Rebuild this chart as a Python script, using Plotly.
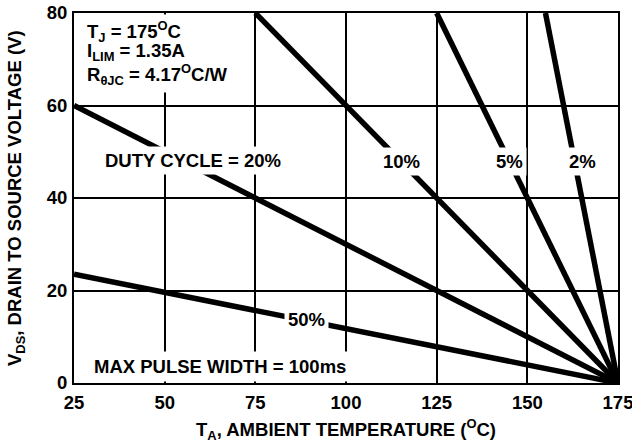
import plotly.graph_objects as go

# Data: safe operating lines for each duty cycle (ambient temperature vs V_DS)
t_2 = [155, 175]
v_2 = [80, 0]
t_5 = [125, 175]
v_5 = [80, 0]
t_10 = [75, 175]
v_10 = [80, 0]
t_20 = [25, 175]
v_20 = [60, 0]
t_50 = [25, 175]
v_50 = [23.5, 0]

x_ticks = [25, 50, 75, 100, 125, 150, 175]
y_ticks = [0, 20, 40, 60, 80]

FONT = "Arial, Liberation Sans, Helvetica, sans-serif"
F18 = dict(family=FONT, size=18.5, color="black", weight="bold")

fig = go.Figure()
for t, v in [(t_2, v_2), (t_5, v_5), (t_10, v_10), (t_20, v_20), (t_50, v_50)]:
    fig.add_trace(go.Scatter(x=t, y=v, mode="lines",
                             line=dict(color="black", width=5.5),
                             showlegend=False, hoverinfo="skip"))

def label(text, x, y, xanchor="center", pad=3):
    fig.add_annotation(x=x, y=y, text=text, showarrow=False, xanchor=xanchor,
                       yanchor="middle", bgcolor="white", borderpad=pad, font=F18)

label("DUTY CYCLE = 20%", 57.8, 48.2)
label("10%", 115.2, 47.8)
label("5%", 145.2, 47.8)
label("2%", 165.1, 47.8)
label("50%", 89.2, 13.8)
label("MAX PULSE WIDTH = 100ms", 29.0, 3.6, xanchor="left", pad=4)

# white block behind conditions text
fig.add_shape(type="rect", x0=25.4, x1=70.5, y0=62.8, y1=79.7,
              fillcolor="white", line=dict(width=0), layer="above")
for txt, yy in [("T<sub>J</sub> = 175<sup>O</sup>C", 76.0),
                ("I<sub>LIM</sub> = 1.35A", 71.5),
                ("R<sub>θJC</sub> = 4.17<sup>O</sup>C/W", 66.6)]:
    fig.add_annotation(x=28.0, y=yy, text=txt, showarrow=False, xanchor="left",
                       yanchor="middle", font=F18)

# axis titles
fig.add_annotation(xref="paper", yref="paper", x=0.5, y=-0.127,
                   text="T<sub>A</sub>, AMBIENT TEMPERATURE (<sup>O</sup>C)",
                   showarrow=False, xanchor="center", yanchor="middle", font=F18)
fig.add_annotation(xref="paper", yref="paper", x=-0.1066, y=0.5, textangle=-90,
                   text="V<sub>DS</sub>, DRAIN TO SOURCE VOLTAGE (V)",
                   showarrow=False, xanchor="center", yanchor="middle", font=F18)

axis_common = dict(showgrid=True, gridcolor="black", gridwidth=1.5,
                   showline=True, linecolor="black", linewidth=2, mirror=True,
                   zeroline=False, ticks="outside", ticklabeloverflow="allow",
                   tickcolor="rgba(0,0,0,0)", automargin=False, tickfont=F18)

fig.update_xaxes(range=[25, 175], tickvals=x_ticks, ticklen=2, **axis_common)
fig.update_yaxes(range=[0, 80], tickvals=y_ticks, ticklen=1, **axis_common)

fig.update_layout(width=632, height=448,
                  margin=dict(l=74, r=14, t=13, b=65),
                  plot_bgcolor="white", paper_bgcolor="white",
                  font=dict(family=FONT, size=18, color="black"))

fig.write_html("out.html", config={"displayModeBar": False},
               post_script="document.body.style.margin='0';document.body.style.overflow='hidden';")
